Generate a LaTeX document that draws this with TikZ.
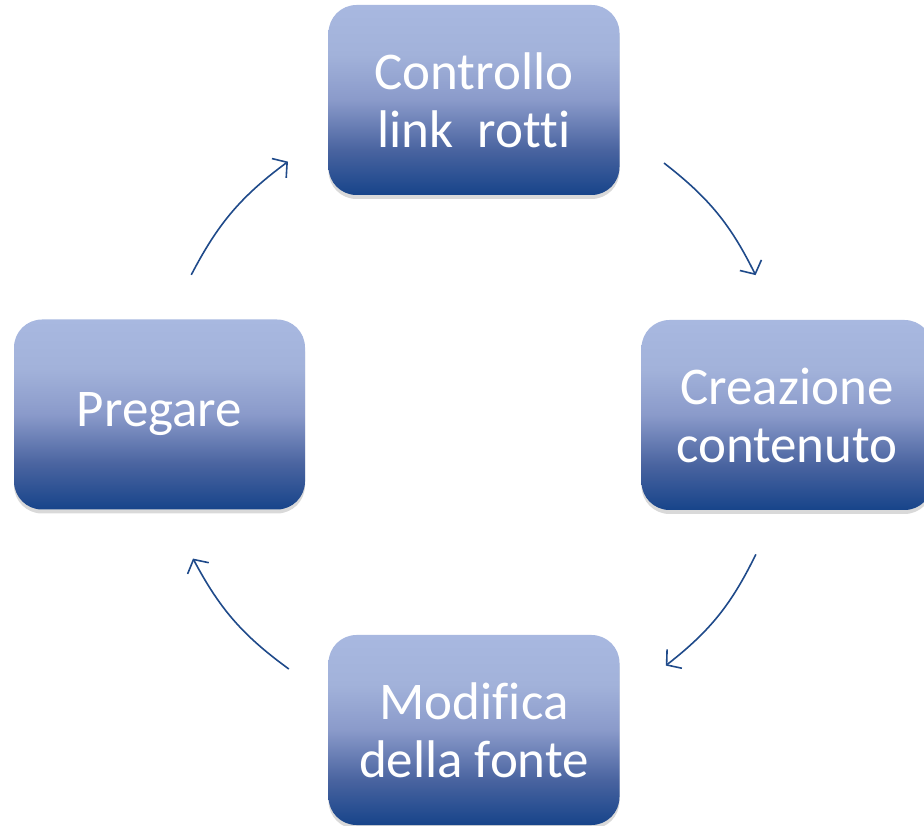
\documentclass[tikz,border=0pt]{standalone}
\usepackage{fontspec}
\setmainfont[Ligatures={NoCommon}]{Carlito}
\usetikzlibrary{arrows.meta,shadows}

\definecolor{boxtop}{HTML}{A8B8E0}
\definecolor{boxbot}{HTML}{17448A}
\definecolor{arrowblue}{HTML}{1F4A8A}

\pgfdeclareverticalshading{boxshade}{100bp}{
  color(0bp)=(boxbot); color(25bp)=(boxbot);
  color(37bp)=(rgb,255:red,74;green,100;blue,160);
  color(50bp)=(rgb,255:red,138;green,154;blue,202);
  color(62bp)=(rgb,255:red,162;green,178;blue,218);
  color(75bp)=(boxtop); color(100bp)=(boxtop)}

\tikzset{
  cyclebox/.style={rectangle, rounded corners=28pt, minimum width=291pt,
    minimum height=190pt, shading=boxshade, text=white, align=center,
    font=\fontsize{53}{58}\selectfont,
    drop shadow={shadow xshift=0pt, shadow yshift=-4pt, opacity=0.3}},
  cyclearrow/.style={draw=arrowblue, line width=1.6pt,
    -{Straight Barb[length=10pt,width=24pt,line width=1.6pt]}}
}

\begin{document}
\begin{tikzpicture}[x=1pt,y=1pt]
    % Canvas
    \useasboundingbox (0,0) rectangle (924,825);

    % Parameters
    \def\radiusR{318}
    \def\radiusL{312}

    % Boxes
    \node[cyclebox] (controllo) at (474,725) {Controllo\\link\ \ rotti};
    \node[cyclebox] (creazione) at (787,410) {Creazione\\contenuto};
    \node[cyclebox] (modifica) at (474,95) {Modifica\\della fonte};
    \node[cyclebox] (pregare) at (159.5,410.5) {Pregare};

    % Arrow ends on the circle
    \begin{scope}[shift={(470,410)}]
      \coordinate (trStart) at (52.4:\radiusR);
      \coordinate (trEnd) at (26.1:\radiusR);
      \coordinate (brStart) at (-26:\radiusR);
      \coordinate (brEnd) at (-52:\radiusR);
      \coordinate (blStart) at (234.5:\radiusL);
      \coordinate (blEnd) at (207.4:\radiusL);
      \coordinate (tlStart) at (153.3:\radiusL);
      \coordinate (tlEnd) at (125.7:\radiusL);
    \end{scope}

    % Arrows
    \draw[cyclearrow] (trStart) to[bend left=13] (trEnd);
    \draw[cyclearrow] (brStart) to[bend left=13] (brEnd);
    \draw[cyclearrow] (blStart) to[bend left=13] (blEnd);
    \draw[cyclearrow] (tlStart) to[bend left=13] (tlEnd);
\end{tikzpicture}
\end{document}
